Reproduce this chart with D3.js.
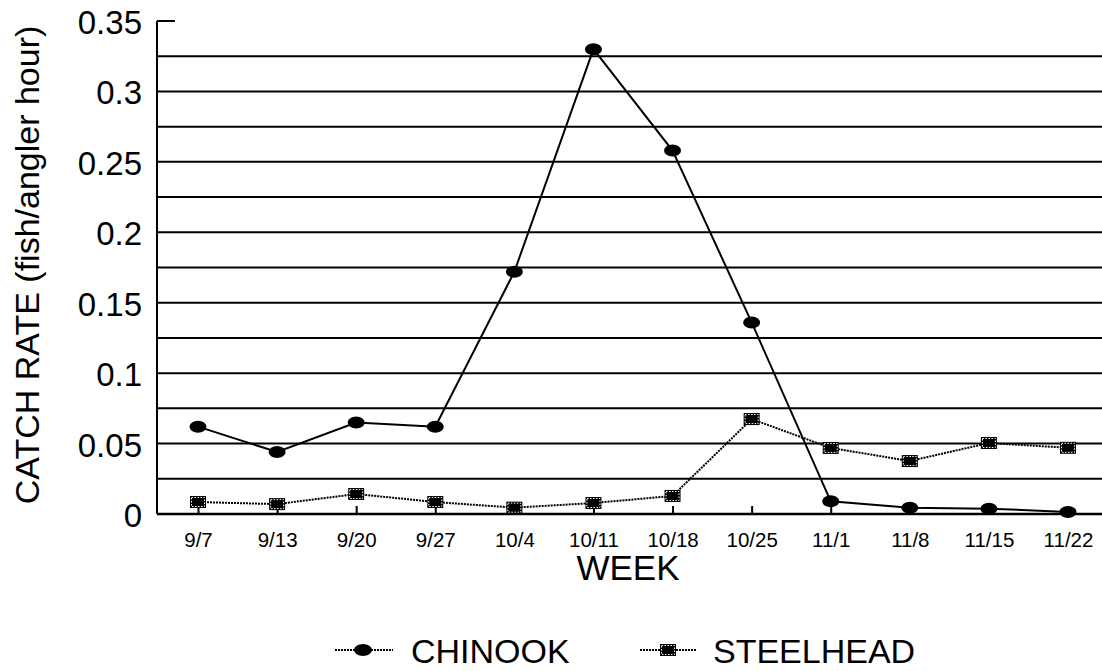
<!DOCTYPE html>
<html><head><meta charset="utf-8">
<script src="https://cdnjs.cloudflare.com/ajax/libs/d3/7.8.5/d3.min.js"></script>
<style>body{margin:0;background:#fff}svg{display:block;font-family:Arial,"Liberation Sans",sans-serif}</style>
</head><body><svg id="c" width="1102" height="671"></svg>
<script>
const weeks = ["9/7","9/13","9/20","9/27","10/4","10/11","10/18","10/25","11/1","11/8","11/15","11/22"];
const chinook = [0.062,0.044,0.065,0.062,0.172,0.330,0.258,0.136,0.009,0.0045,0.0038,0.0015];
const steelhead = [0.0085,0.007,0.0142,0.0085,0.0045,0.0078,0.0128,0.0674,0.0469,0.0376,0.0504,0.047];
const yTicks = [0,0.05,0.1,0.15,0.2,0.25,0.3,0.35];
const gridVals = [0.025,0.05,0.075,0.1,0.125,0.15,0.175,0.2,0.225,0.25,0.275,0.3,0.325];

const FONT = "Arial, Liberation Sans, sans-serif";
const svg = d3.select("#c");
const L = 157, R = 1102, T = 21, B = 514;
const x = d3.scalePoint().domain(weeks).range([198, 1068]);
const y = d3.scaleLinear().domain([0, 0.35]).range([B, T]);
const cx = d => x(d);

// gridlines
svg.append("g").selectAll("line").data(gridVals).join("line")
  .attr("x1", L).attr("x2", R).attr("y1", d => y(d)).attr("y2", d => y(d))
  .attr("stroke", "#000").attr("stroke-width", 2);

// y axis
const ya = svg.append("g").attr("transform", `translate(${L},0)`)
  .call(d3.axisLeft(y).tickValues(yTicks).tickSize(0).tickPadding(15).tickFormat(d => d === 0 ? "0" : String(+d.toFixed(2))));
ya.select(".domain").attr("stroke-width", 2).attr("d", `M0,${B}V${T}`);
ya.selectAll("text").attr("font-size", 33).attr("dy", "0.38em").attr("fill", "#000").attr("font-family", FONT);
svg.append("line").attr("x1", L).attr("x2", L + 18).attr("y1", y(0.35)).attr("y2", y(0.35)).attr("stroke", "#000").attr("stroke-width", 2);

// x axis
const xa = svg.append("g").attr("transform", `translate(0,${B})`)
  .call(d3.axisBottom(x).tickSizeInner(-8).tickSizeOuter(0).tickPadding(18));
xa.select(".domain").attr("stroke-width", 2.5).attr("d", `M${L},0H${R}`);
xa.selectAll(".tick line").attr("stroke-width", 2);
xa.selectAll("text").attr("font-size", 20.5).attr("fill", "#000").attr("font-family", FONT);

// titles
svg.append("text").attr("x", 628).attr("y", 580).attr("text-anchor", "middle").attr("font-size", 35).attr("font-family", FONT).text("WEEK");
svg.append("text").attr("transform", `translate(39,265) rotate(-90)`).attr("text-anchor", "middle").attr("font-size", 34).attr("font-family", FONT).text("CATCH RATE (fish/angler hour)");

const line = d3.line().x((d, i) => cx(weeks[i])).y(d => y(d));

// steelhead
svg.append("path").datum(steelhead).attr("d", line).attr("fill", "none").attr("stroke", "#000").attr("stroke-width", 2).attr("stroke-dasharray", "2,1");
function sq(g, px, py) {
  g.append("rect").attr("x", px - 8).attr("y", py - 6).attr("width", 16).attr("height", 12).attr("fill", "#000");
  g.append("rect").attr("x", px - 6.5).attr("y", py - 4.5).attr("width", 13).attr("height", 9).attr("fill", "none").attr("stroke", "#fff").attr("stroke-width", 1).attr("stroke-dasharray", "1.5,1.5");
}
const sg = svg.append("g");
steelhead.forEach((v, i) => sq(sg, cx(weeks[i]), y(v)));

// chinook
svg.append("path").datum(chinook).attr("d", line).attr("fill", "none").attr("stroke", "#000").attr("stroke-width", 2);
svg.append("g").selectAll("ellipse").data(chinook).join("ellipse")
  .attr("cx", (d, i) => cx(weeks[i])).attr("cy", d => y(d)).attr("rx", 8.5).attr("ry", 6).attr("fill", "#000");

// legend
const ly = 650;
svg.append("line").attr("x1", 335).attr("x2", 393).attr("y1", ly).attr("y2", ly).attr("stroke", "#000").attr("stroke-width", 2).attr("stroke-dasharray", "2,1");
svg.append("ellipse").attr("cx", 363).attr("cy", ly).attr("rx", 9).attr("ry", 6).attr("fill", "#000");
svg.append("text").attr("x", 411).attr("y", 663).attr("font-size", 34).attr("font-family", FONT).text("CHINOOK");
svg.append("line").attr("x1", 640).attr("x2", 697).attr("y1", ly).attr("y2", ly).attr("stroke", "#000").attr("stroke-width", 2).attr("stroke-dasharray", "2,1");
sq(svg, 668, ly);
svg.append("text").attr("x", 713).attr("y", 663).attr("font-size", 34).attr("font-family", FONT).text("STEELHEAD");
</script></body></html>
